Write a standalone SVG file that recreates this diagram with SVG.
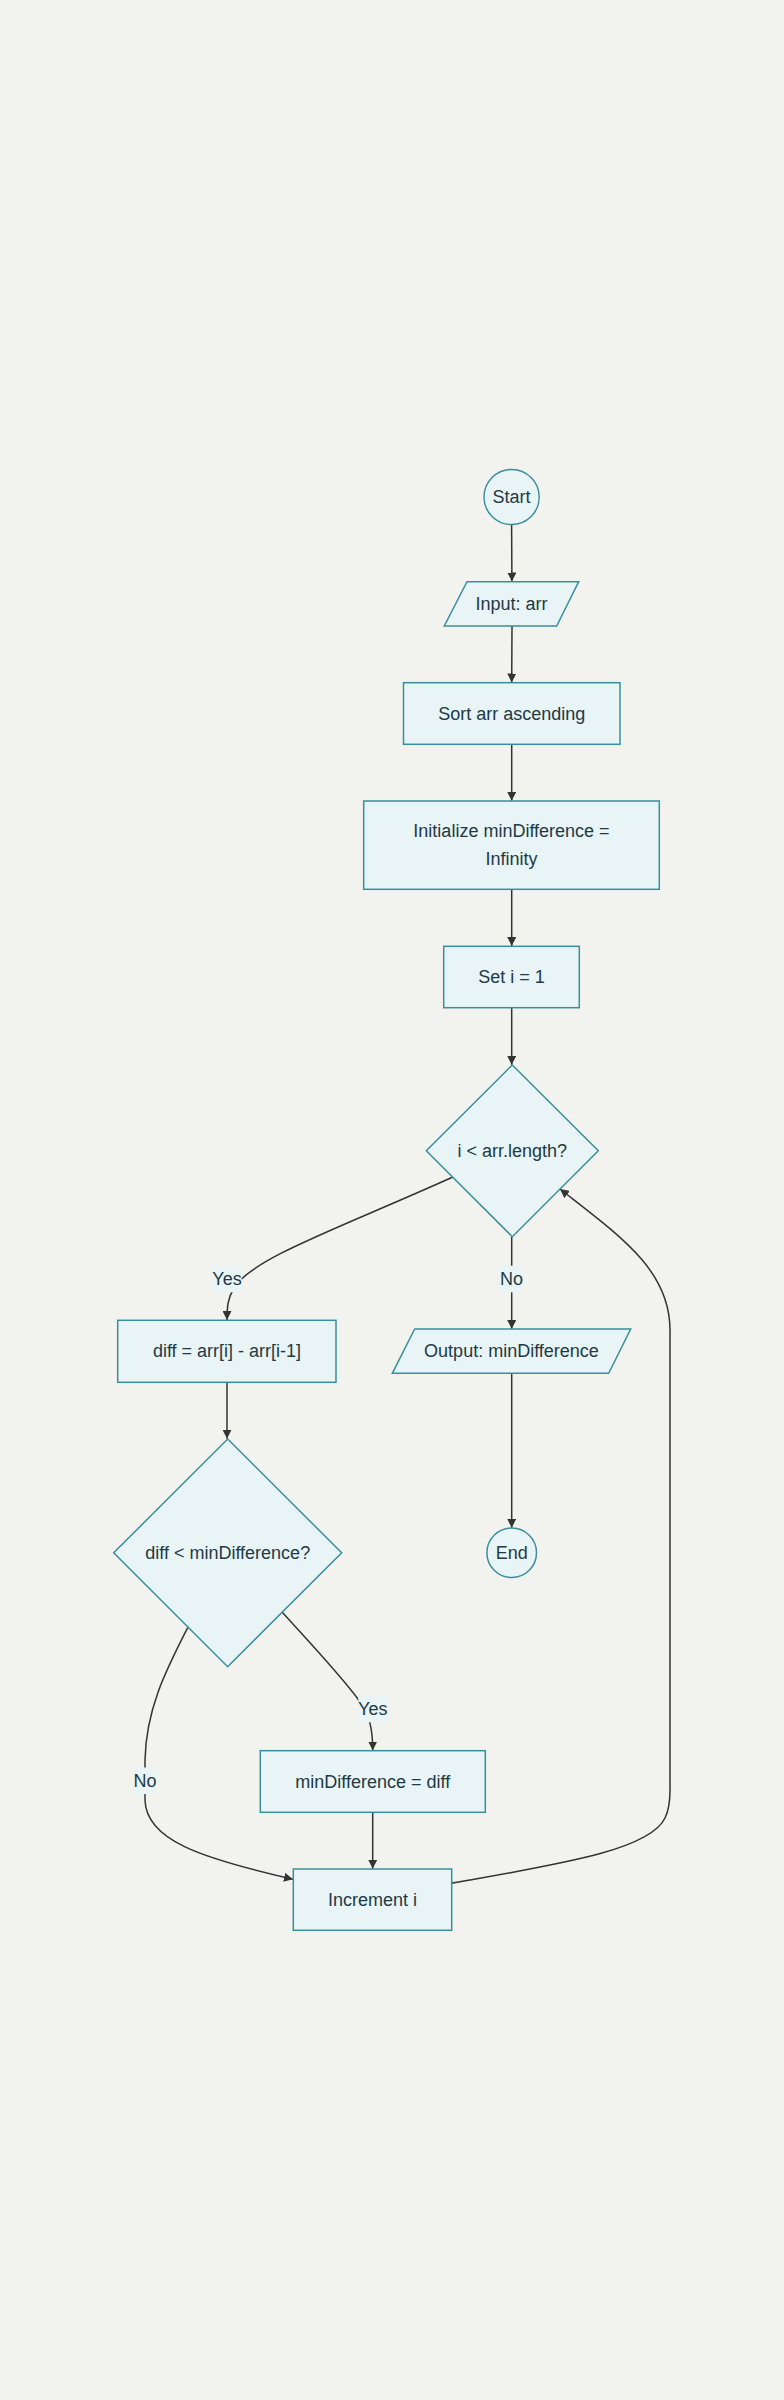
<svg xmlns="http://www.w3.org/2000/svg" width="784" height="2400" viewBox="0 0 784 2400">
<style>
.node{fill:#e8f4f5;stroke:#3a8f9c;stroke-width:1.5}
.t{font-family:"Liberation Sans",Arial,sans-serif;font-size:18px;fill:#1e3a44;text-anchor:middle;dominant-baseline:central}
.e{fill:none;stroke:#333;stroke-width:1.5}
.lb{fill:#e8f4f5}
</style>
<defs>
<marker id="arr" viewBox="0 0 10 10" refX="10" refY="5" markerWidth="9" markerHeight="9" markerUnits="userSpaceOnUse" orient="auto">
<path d="M0,0 L10,5 L0,10 z" fill="#333"/>
</marker>
</defs>
<rect width="784" height="2400" fill="#f2f3ee"/>
<g id="edges">
<path class="e" d="M511.6,524.7 L511.9,581.5" marker-end="url(#arr)"/>
<path class="e" d="M512,626 L511.7,682.5" marker-end="url(#arr)"/>
<path class="e" d="M511.7,744.3 L511.7,800.8" marker-end="url(#arr)"/>
<path class="e" d="M511.7,889.3 L511.7,946" marker-end="url(#arr)"/>
<path class="e" d="M511.7,1007.7 L511.7,1064.8" marker-end="url(#arr)"/>
<path class="e" d="M511.7,1236.7 L511.7,1329" marker-end="url(#arr)"/>
<path class="e" d="M511.7,1373.3 L511.7,1527.8" marker-end="url(#arr)"/>
<path class="e" d="M452.3,1177.3 C340,1228 252,1258 234,1288 C228,1298 227,1306 227,1320" marker-end="url(#arr)"/>
<path class="e" d="M227,1382.3 L227,1438.8" marker-end="url(#arr)"/>
<path class="e" d="M282.3,1612.3 C310,1643 345,1680 360,1702 C370,1716 372.7,1730 372.7,1750.5" marker-end="url(#arr)"/>
<path class="e" d="M187.7,1627.7 C165,1672 146,1710 145,1760 L145,1800 C146,1840 200,1858 293,1879.3" marker-end="url(#arr)"/>
<path class="e" d="M372.7,1812.3 L372.7,1868.8" marker-end="url(#arr)"/>
<path class="e" d="M451.7,1883.3 C560,1864 650,1850 665,1818 Q670,1808 670,1790 L670,1330 C670,1270 620,1236 560,1189" marker-end="url(#arr)"/>
</g>
<g id="edge-labels">
<rect class="lb" x="212.3" y="1265.7" width="29.4" height="26.6"/>
<text class="t" x="227" y="1279">Yes</text>
<rect class="lb" x="500" y="1265.7" width="22.7" height="26.6"/>
<text class="t" x="511.4" y="1279">No</text>
<rect class="lb" x="358.3" y="1695.7" width="29" height="26.6"/>
<text class="t" x="372.8" y="1709">Yes</text>
<rect class="lb" x="133.7" y="1767.5" width="22.4" height="26.6"/>
<text class="t" x="145" y="1781">No</text>
</g>
<g id="start"><circle class="node" cx="511.6" cy="497" r="27.6"/><text class="t" x="511.6" y="497">Start</text></g>
<g id="input"><polygon class="node" points="467,581.7 578.7,581.7 556.7,626 444.3,626"/><text class="t" x="511.5" y="604">Input: arr</text></g>
<g id="sort"><rect class="node" x="403.5" y="682.7" width="216.5" height="61.6"/><text class="t" x="511.7" y="713.5">Sort arr ascending</text></g>
<g id="init"><rect class="node" x="363.7" y="801" width="295.6" height="88.3"/><text class="t" x="511.5" y="831">Initialize minDifference =</text><text class="t" x="511.5" y="859">Infinity</text></g>
<g id="seti"><rect class="node" x="443.7" y="946.3" width="135.6" height="61.4"/><text class="t" x="511.5" y="977">Set i = 1</text></g>
<g id="cond1"><polygon class="node" points="512.3,1065 598.3,1150.8 512.3,1236.7 426.3,1150.8"/><text class="t" x="512.3" y="1150.8">i &lt; arr.length?</text></g>
<g id="output"><polygon class="node" points="414.7,1329 630.7,1329 608.7,1373.3 392.3,1373.3"/><text class="t" x="511.5" y="1351">Output: minDifference</text></g>
<g id="end"><circle class="node" cx="511.7" cy="1552.7" r="24.8"/><text class="t" x="511.7" y="1552.7">End</text></g>
<g id="diff"><rect class="node" x="117.7" y="1320.3" width="218.3" height="62"/><text class="t" x="227" y="1351.3">diff = arr[i] - arr[i-1]</text></g>
<g id="cond2"><polygon class="node" points="227.7,1439 341.7,1552.8 227.7,1666.7 113.7,1552.8"/><text class="t" x="227.7" y="1553">diff &lt; minDifference?</text></g>
<g id="update"><rect class="node" x="260.3" y="1750.7" width="225" height="61.6"/><text class="t" x="372.8" y="1781.5">minDifference = diff</text></g>
<g id="incr"><rect class="node" x="293.3" y="1869" width="158.4" height="61.3"/><text class="t" x="372.5" y="1899.7">Increment i</text></g>
</svg>
